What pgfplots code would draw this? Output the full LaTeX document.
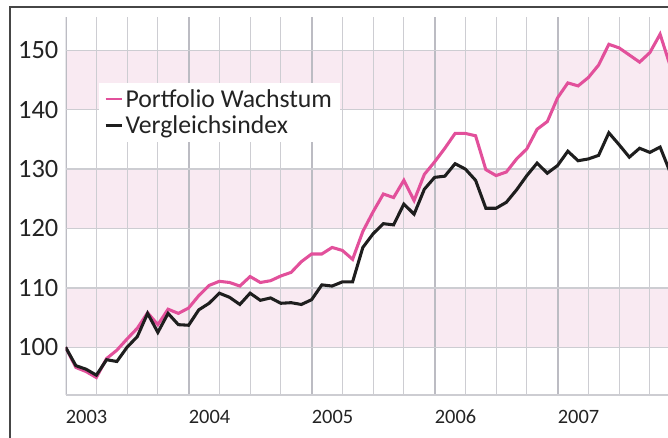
\documentclass[border=0pt]{standalone}
\usepackage{fontspec}
\setmainfont{Carlito}
\usepackage{pgfplots}
\pgfplotsset{compat=1.18}
\definecolor{pinkline}{RGB}{226,80,155}
\definecolor{blackline}{RGB}{30,30,30}
\definecolor{band}{RGB}{249,234,242}
\definecolor{gridmin}{RGB}{205,205,210}
\definecolor{gridmaj}{RGB}{188,188,195}
\definecolor{framecol}{RGB}{70,70,70}
\definecolor{txt}{RGB}{35,35,35}
\pgfplotstableread{
i p b
0 100 100
1 96.6 96.9
2 95.9 96.3
3 94.9 95.3
4 98.1 97.9
5 99.5 97.6
6 101.4 100.0
7 103.2 101.8
8 105.8 105.7
9 103.8 102.5
10 106.4 105.7
11 105.7 103.8
12 106.6 103.7
13 108.7 106.3
14 110.4 107.4
15 111.1 109.1
16 110.9 108.4
17 110.3 107.2
18 111.9 109.1
19 110.9 107.9
20 111.2 108.3
21 112.0 107.4
22 112.6 107.5
23 114.4 107.2
24 115.7 108.0
25 115.7 110.5
26 116.8 110.3
27 116.3 111.0
28 114.8 111.0
29 119.5 116.8
30 122.8 119.1
31 125.8 120.8
32 125.2 120.6
33 128.1 124.1
34 124.7 122.4
35 129.1 126.6
36 131.2 128.6
37 133.5 128.8
38 136.0 130.9
39 136.0 130.0
40 135.6 128.1
41 129.9 123.4
42 128.9 123.4
43 129.5 124.4
44 131.7 126.5
45 133.4 128.9
46 136.7 131.0
47 138.0 129.3
48 142.0 130.6
49 144.5 133.0
50 144.0 131.4
51 145.4 131.7
52 147.5 132.3
53 151.0 136.1
54 150.4 134.1
55 149.2 132.0
56 148.0 133.5
57 149.6 132.8
58 152.7 133.7
59 147.3 129.4
}\datatable
\begin{document}
\begin{tikzpicture}[x=0.75pt,y=0.75pt]
\begin{axis}[
  at={(64,72)}, anchor=south west,
  scale only axis, width=452.25pt, height=283.5pt,
  xmin=0, xmax=58.83, ymin=91.92, ymax=155.56,
  axis line style={draw=none},
  xtick={0,12,24,36,48},
  xticklabels={2003,2004,2005,2006,2007},
  ytick={100,110,120,130,140,150},
  major tick length=0pt,
  /pgf/number format/assume math mode=true,
  yticklabel style={anchor=east, inner sep=0pt, xshift=-5.25pt, font=\fontsize{19.8}{22}\selectfont, text=txt},
  xticklabel style={anchor=west, inner sep=0pt, yshift=-16.3pt, font=\fontsize{15.3}{18}\selectfont, text=txt},
  legend style={at={(0.0547,0.828)}, anchor=north west, draw=none, fill=white,
    font=\fontsize{19.3}{21}\selectfont, text=txt, inner xsep=4pt, inner ysep=3pt, row sep=1pt},
  legend cell align=left,
  legend image code/.code={\draw[#1, line width=2pt] (0,0) -- (12pt,0);},
]
\fill[band] (axis cs:0,100) rectangle (axis cs:58.83,110);
\fill[band] (axis cs:0,120) rectangle (axis cs:58.83,130);
\fill[band] (axis cs:0,140) rectangle (axis cs:58.83,150);
\pgfplotsinvokeforeach{3,6,9,15,18,21,27,30,33,39,42,45,51,54,57}{
  \draw[gridmin, line width=0.8pt] (axis cs:#1,91.92) -- (axis cs:#1,155.56);
}
\pgfplotsinvokeforeach{0,12,24,36,48}{
  \draw[gridmaj, line width=1.5pt] (axis cs:#1,91.92) -- (axis cs:#1,155.56);
}
\pgfplotsinvokeforeach{100,110,120,130,140,150}{
  \draw[gridmin, line width=1.1pt] (axis cs:0,#1) -- (axis cs:58.83,#1);
}
\draw[gridmin, line width=1.1pt] (axis cs:0,91.92) -- (axis cs:58.83,91.92);
\addplot[pinkline, line width=2.3pt, line join=miter] table[x=i, y=p] {\datatable};
\addlegendentry{Portfolio Wachstum}
\addplot[blackline, line width=2.3pt, line join=miter] table[x=i, y=b] {\datatable};
\addlegendentry{Vergleichsindex}
\end{axis}
\draw[framecol, line width=1.5pt] (10,0) -- (10,431) -- (668,431);
\pgfresetboundingbox
\useasboundingbox (0,0) rectangle (668,438);
\end{tikzpicture}
\end{document}
